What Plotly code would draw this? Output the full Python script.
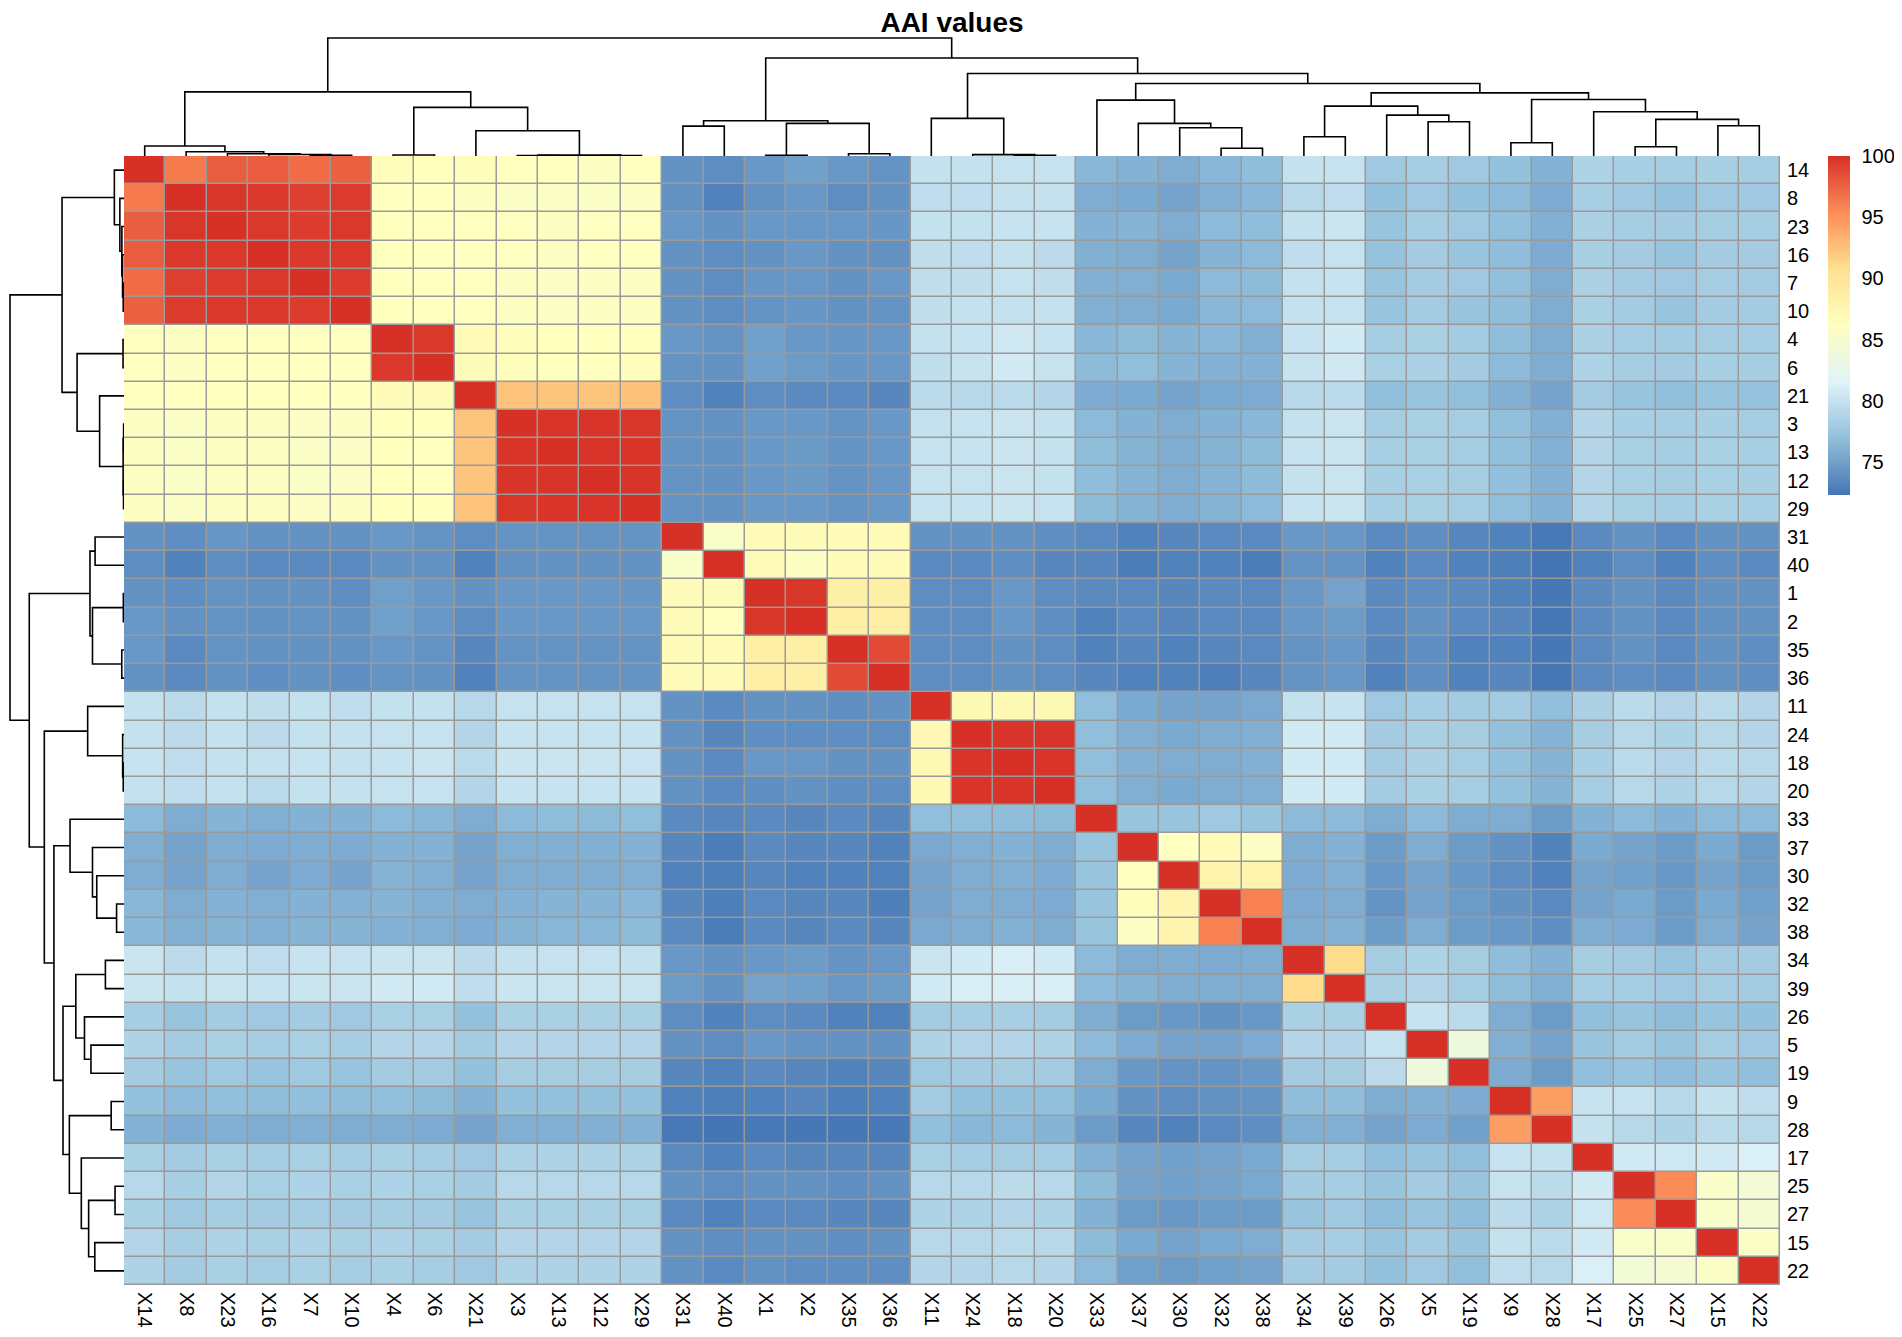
import plotly.graph_objects as go

title = "AAI values"

# genome order after clustering (rows); the columns carry an "X" prefix
genomes = ["14", "8", "23", "16", "7", "10", "4", "6", "21", "3", "13", "12", "29",
           "31", "40", "1", "2", "35", "36", "11", "24", "18", "20",
           "33", "37", "30", "32", "38", "34", "39", "26", "5", "19",
           "9", "28", "17", "25", "27", "15", "22"]
col_labels = ["X" + g for g in genomes]

# hierarchical clustering merges: a str is a leaf, an int is an earlier merge
merge_left = ["7", "16", "23", "8", "14", "4", "3", "12", 6, "21", 5, 4,
              "31", "1", "35", 13, 12, "18", "24", "11",
              "32", "30", "37", "33", "34", "5", "26", 24,
              "9", "25", "15", 29, "17", 28, 27, 23, 19, 16, 11]
merge_right = ["10", 0, 1, 2, 3, "6", "13", "29", 7, 8, 9, 10,
               "40", "2", "36", 14, 15, "20", 17, 18,
               "38", 20, 21, 22, "39", "19", 25, 26,
               "28", "27", "22", 30, 31, 32, 33, 34, 35, 36, 37]
merge_height = [0.8, 1.5, 2.2, 4.3, 10.0, 1.0, 0.4, 0.5, 0.9, 25.3, 48.7, 64.3,
                30.0, 0.7, 2.3, 32.7, 35.3, 0.8, 1.4, 37.7,
                7.7, 28.3, 32.7, 56.0, 19.3, 34.3, 41.0, 50.0,
                13.3, 9.3, 30.3, 36.7, 44.3, 56.7, 63.3, 72.7, 82.7, 98.3, 118.3]

# AAI (%) matrix, rows and columns in the order of `genomes`
aai = [
    [100, 96.3, 97.7, 97.8, 97.0, 97.6, 86.4, 86.2, 86.4, 86.1, 86.0, 85.9, 86.0, 74.1, 73.8, 74.5, 75.0, 74.5, 74.2, 79.9, 79.9, 80.0, 80.0, 76.4, 76.1, 75.8, 76.4, 76.8, 79.9, 80.0, 77.8, 78.2, 77.8, 77.1, 76.1, 78.6, 78.3, 78.2, 78.3, 78.2],
    [96.3, 100, 99.7, 99.6, 99.2, 99.4, 86.1, 86.0, 85.9, 85.6, 85.5, 85.6, 85.7, 74.1, 73.1, 74.1, 74.5, 73.8, 74.1, 79.6, 79.6, 79.9, 79.9, 75.8, 75.6, 75.2, 76.0, 76.4, 79.1, 79.6, 77.1, 77.8, 77.1, 76.6, 75.7, 78.3, 77.8, 77.2, 77.8, 77.8],
    [97.7, 99.7, 100, 99.6, 99.4, 99.6, 86.2, 86.1, 86.1, 86.0, 85.9, 86.0, 86.0, 74.5, 74.1, 74.5, 74.5, 74.5, 74.4, 79.9, 79.9, 80.1, 80.1, 76.1, 76.2, 75.8, 76.6, 76.8, 79.9, 80.3, 77.4, 78.2, 77.8, 77.0, 76.0, 78.5, 78.2, 78.0, 78.2, 78.2],
    [97.8, 99.6, 99.6, 100, 99.6, 99.6, 86.2, 86.1, 86.1, 86.0, 85.9, 86.0, 86.0, 74.1, 73.8, 74.1, 74.5, 74.1, 74.1, 79.7, 79.6, 79.9, 79.4, 76.0, 75.8, 75.2, 76.2, 76.6, 79.6, 80.0, 77.2, 78.0, 77.4, 76.8, 75.7, 78.3, 78.0, 77.4, 78.0, 78.0],
    [97.0, 99.2, 99.4, 99.6, 100, 99.4, 86.2, 86.1, 86.1, 85.9, 85.7, 85.9, 85.9, 74.1, 73.8, 74.4, 74.5, 74.1, 74.5, 79.7, 79.7, 80.0, 79.7, 76.0, 75.9, 75.6, 76.6, 76.7, 79.9, 80.1, 77.4, 78.0, 77.8, 77.0, 75.8, 78.5, 78.0, 77.8, 78.2, 78.0],
    [97.6, 99.4, 99.6, 99.6, 99.4, 100, 86.2, 86.1, 86.0, 85.9, 85.7, 85.9, 85.9, 74.1, 73.8, 74.2, 74.4, 74.1, 74.2, 79.7, 79.9, 79.9, 79.9, 76.0, 75.8, 75.6, 76.4, 76.6, 79.9, 80.0, 77.4, 78.0, 77.4, 76.8, 75.8, 78.4, 78.0, 77.4, 78.0, 78.0],
    [86.0, 85.9, 86.0, 86.1, 86.0, 86.0, 100, 99.6, 86.8, 86.4, 86.2, 86.2, 86.2, 74.5, 74.2, 75.0, 74.5, 74.4, 74.5, 79.9, 80.1, 80.6, 80.0, 76.4, 76.7, 76.2, 76.4, 76.0, 80.1, 80.7, 78.2, 78.4, 78.0, 76.8, 75.8, 78.5, 78.2, 78.0, 78.2, 78.2],
    [86.0, 85.9, 86.1, 86.2, 86.1, 86.1, 99.6, 100, 86.8, 86.4, 86.2, 86.2, 86.4, 74.2, 74.1, 75.0, 74.7, 74.4, 74.5, 79.7, 80.1, 80.7, 80.1, 76.7, 76.9, 76.2, 76.1, 76.1, 80.1, 80.6, 78.4, 78.5, 78.0, 76.6, 75.8, 78.6, 78.2, 78.0, 78.3, 78.2],
    [86.0, 86.0, 86.1, 86.1, 86.1, 86.0, 86.8, 86.8, 100, 92.4, 92.3, 92.3, 92.5, 73.8, 73.1, 73.8, 73.6, 73.6, 73.4, 79.4, 79.1, 79.4, 78.9, 75.7, 75.6, 75.2, 75.6, 75.7, 79.1, 79.4, 77.0, 77.4, 77.0, 76.0, 75.2, 78.0, 77.4, 77.0, 77.4, 77.2],
    [85.8, 85.6, 85.9, 85.9, 85.7, 85.8, 86.2, 86.2, 92.3, 100, 99.8, 99.8, 99.7, 74.2, 74.1, 74.5, 74.5, 74.2, 74.5, 79.9, 80.1, 80.3, 79.9, 76.6, 76.1, 75.8, 76.1, 76.4, 79.9, 80.3, 78.2, 78.4, 78.2, 77.0, 76.0, 78.9, 78.3, 78.2, 78.3, 78.2],
    [85.8, 85.5, 85.8, 85.9, 85.6, 85.7, 86.2, 86.1, 92.3, 99.8, 100, 99.8, 99.8, 74.2, 74.1, 74.5, 74.6, 74.2, 74.5, 80.0, 80.1, 80.3, 79.9, 76.8, 76.2, 75.8, 76.2, 76.7, 80.0, 80.3, 78.3, 78.4, 78.2, 77.0, 76.1, 78.9, 78.4, 78.2, 78.4, 78.3],
    [85.8, 85.5, 85.8, 85.9, 85.6, 85.7, 86.2, 86.1, 92.3, 99.8, 99.8, 100, 99.8, 74.2, 74.1, 74.5, 74.6, 74.2, 74.5, 80.0, 80.0, 80.3, 79.9, 76.8, 76.2, 75.8, 76.2, 76.7, 79.9, 80.3, 78.3, 78.4, 78.2, 77.0, 76.1, 78.9, 78.4, 78.2, 78.4, 78.3],
    [85.8, 85.6, 85.8, 85.9, 85.7, 85.8, 86.2, 86.2, 92.4, 99.7, 99.8, 99.8, 100, 74.2, 74.1, 74.5, 74.5, 74.2, 74.5, 80.0, 80.1, 80.3, 80.0, 76.7, 76.2, 75.8, 76.2, 76.6, 80.0, 80.3, 78.3, 78.4, 78.2, 76.9, 76.1, 78.9, 78.4, 78.2, 78.4, 78.3],
    [74.1, 73.9, 74.4, 74.1, 74.1, 74.1, 74.5, 74.2, 73.8, 74.2, 74.2, 74.2, 74.2, 100, 85.3, 86.7, 86.8, 86.7, 86.7, 74.1, 74.1, 74.1, 73.9, 73.6, 73.1, 73.4, 73.6, 73.6, 74.5, 74.5, 73.6, 73.9, 73.4, 73.1, 72.5, 73.6, 74.1, 73.6, 74.1, 74.1],
    [73.8, 73.1, 73.9, 73.6, 73.6, 73.6, 74.1, 74.1, 73.1, 74.1, 74.1, 74.1, 74.1, 85.3, 100, 86.7, 85.8, 86.8, 86.8, 73.6, 73.6, 73.9, 73.4, 73.4, 72.8, 73.1, 73.1, 72.8, 74.2, 74.2, 73.1, 73.6, 73.1, 72.9, 72.3, 73.1, 73.8, 73.1, 73.9, 73.6],
    [74.1, 73.9, 74.2, 74.1, 74.1, 73.9, 74.9, 74.5, 74.1, 74.5, 74.5, 74.5, 74.4, 86.8, 86.7, 100, 99.7, 88.6, 88.6, 73.8, 73.8, 74.5, 73.8, 73.6, 73.6, 73.4, 73.6, 73.6, 74.5, 75.2, 73.6, 73.9, 73.6, 73.1, 72.4, 73.6, 74.1, 73.6, 74.1, 74.1],
    [74.5, 74.1, 74.2, 74.1, 74.2, 74.1, 75.0, 74.5, 73.8, 74.5, 74.5, 74.5, 74.5, 86.8, 86.0, 99.7, 100, 88.6, 88.6, 73.9, 73.8, 74.5, 73.8, 73.1, 73.6, 73.4, 73.6, 73.6, 74.5, 74.7, 73.6, 74.1, 73.6, 73.4, 72.4, 73.6, 74.1, 73.6, 74.1, 74.1],
    [74.5, 73.6, 74.2, 74.1, 74.1, 74.1, 74.5, 74.2, 73.4, 74.2, 74.2, 74.2, 74.2, 86.7, 86.8, 88.6, 88.6, 100, 98.7, 73.8, 73.8, 74.1, 73.8, 73.1, 73.4, 73.1, 73.4, 73.6, 74.2, 74.5, 73.4, 73.9, 73.1, 73.1, 72.4, 73.6, 74.1, 73.6, 74.1, 73.9],
    [74.1, 73.6, 74.1, 73.9, 74.1, 73.9, 74.2, 74.1, 73.1, 74.2, 74.2, 74.2, 74.2, 86.7, 86.8, 88.6, 88.6, 98.7, 100, 73.8, 73.8, 74.1, 73.8, 73.4, 73.1, 73.1, 72.9, 73.4, 74.2, 74.5, 73.1, 73.9, 73.1, 73.4, 72.4, 73.6, 73.9, 73.6, 74.1, 73.9],
    [79.9, 79.4, 79.9, 79.7, 79.9, 79.6, 79.9, 79.9, 79.1, 80.0, 80.0, 80.0, 80.0, 74.1, 73.6, 74.1, 74.1, 73.9, 74.1, 100, 87.0, 87.0, 87.0, 76.9, 75.6, 75.2, 75.2, 75.5, 79.9, 80.1, 77.8, 78.2, 78.0, 78.0, 77.0, 78.5, 79.4, 78.9, 79.4, 78.9],
    [79.9, 79.4, 79.9, 79.4, 79.9, 79.9, 80.0, 80.0, 78.9, 80.1, 80.1, 80.1, 80.1, 74.1, 73.4, 73.9, 73.9, 73.9, 73.8, 87.0, 100, 99.8, 99.8, 76.9, 75.9, 75.6, 75.8, 75.9, 80.7, 80.7, 78.0, 78.4, 78.2, 77.1, 76.2, 78.2, 79.1, 78.6, 79.1, 78.9],
    [80.1, 79.6, 79.9, 79.9, 80.1, 79.9, 80.1, 80.3, 79.4, 80.3, 80.3, 80.3, 80.2, 74.1, 73.6, 74.5, 74.5, 74.1, 74.1, 87.0, 99.8, 100, 99.8, 76.9, 76.0, 75.8, 75.8, 76.0, 80.7, 80.7, 78.0, 78.5, 78.2, 77.1, 76.2, 78.3, 79.4, 78.9, 79.4, 79.1],
    [79.9, 79.6, 79.9, 79.4, 79.9, 79.9, 80.0, 80.0, 78.9, 80.1, 80.1, 80.1, 80.1, 74.1, 73.6, 73.9, 74.1, 73.9, 73.9, 87.0, 99.8, 99.8, 100, 76.9, 75.9, 75.6, 75.8, 75.9, 80.7, 80.7, 78.0, 78.4, 78.2, 77.1, 76.2, 78.2, 79.1, 78.6, 79.1, 78.9],
    [76.6, 75.8, 76.2, 75.9, 76.1, 76.1, 76.6, 76.4, 75.8, 76.6, 76.8, 76.7, 76.9, 73.6, 73.4, 73.6, 73.4, 73.6, 73.4, 76.9, 76.9, 76.8, 76.7, 100, 77.4, 77.4, 77.8, 77.4, 76.6, 76.6, 75.8, 76.6, 75.8, 75.8, 74.7, 76.1, 76.6, 76.1, 76.6, 76.6],
    [75.9, 75.2, 75.8, 75.7, 75.8, 75.7, 76.1, 76.1, 75.2, 75.9, 76.0, 76.0, 76.1, 73.4, 72.8, 73.6, 73.4, 73.4, 73.1, 75.5, 75.9, 76.1, 75.8, 77.4, 100, 86.1, 86.8, 85.7, 75.8, 76.1, 74.7, 75.8, 74.7, 74.1, 73.1, 75.6, 75.2, 74.7, 75.6, 74.7],
    [75.8, 75.2, 75.8, 75.2, 75.7, 75.2, 76.2, 76.0, 75.2, 75.8, 75.8, 75.8, 75.9, 73.1, 72.9, 73.4, 73.1, 73.1, 73.1, 75.2, 75.8, 75.9, 75.7, 77.4, 86.1, 100, 87.8, 87.8, 75.7, 75.9, 74.5, 75.2, 74.5, 73.8, 73.1, 75.2, 75.0, 74.5, 75.2, 74.7],
    [76.4, 75.8, 76.1, 75.9, 76.1, 76.1, 76.2, 76.0, 75.8, 76.1, 76.2, 76.2, 76.4, 73.4, 72.9, 73.6, 73.4, 73.4, 72.9, 75.2, 75.8, 75.8, 75.7, 77.4, 86.4, 87.8, 100, 96.0, 75.7, 75.8, 74.2, 75.2, 74.7, 74.1, 73.6, 75.2, 75.6, 74.7, 75.6, 75.0],
    [76.4, 75.9, 76.2, 76.0, 76.2, 76.2, 76.1, 75.9, 75.7, 76.2, 76.4, 76.4, 76.7, 73.6, 72.8, 73.6, 73.4, 73.6, 73.4, 75.5, 75.8, 76.1, 75.8, 77.4, 85.7, 87.8, 96.0, 100, 75.8, 76.1, 74.7, 75.8, 74.7, 74.5, 73.9, 75.8, 75.7, 74.7, 75.8, 75.2],
    [80.3, 79.4, 79.9, 79.6, 80.1, 80.1, 80.3, 80.3, 79.4, 79.9, 80.0, 80.0, 79.9, 74.5, 74.1, 74.5, 74.7, 74.2, 74.5, 80.3, 80.7, 81.1, 80.7, 76.6, 75.8, 75.8, 75.7, 75.8, 100, 91.0, 78.2, 78.6, 78.2, 76.8, 76.1, 78.2, 78.0, 77.4, 78.0, 78.0],
    [80.3, 79.9, 80.3, 80.1, 80.3, 80.3, 80.7, 80.7, 79.6, 80.3, 80.3, 80.3, 80.3, 74.7, 74.1, 75.2, 75.0, 74.5, 74.7, 80.7, 81.1, 81.1, 81.1, 76.6, 76.2, 75.8, 75.8, 75.8, 91.0, 100, 78.5, 78.9, 78.2, 76.8, 76.0, 78.2, 78.2, 77.8, 78.2, 78.0],
    [78.2, 77.4, 78.0, 77.8, 78.0, 77.8, 78.4, 78.4, 77.1, 78.4, 78.4, 78.4, 78.4, 73.8, 73.1, 73.8, 73.6, 73.1, 73.1, 78.0, 78.2, 78.3, 78.0, 75.8, 74.7, 74.5, 74.1, 74.5, 78.4, 78.4, 100, 80.1, 79.4, 75.8, 74.7, 77.0, 77.4, 76.8, 77.4, 77.1],
    [78.6, 78.0, 78.4, 78.2, 78.4, 78.2, 78.9, 78.9, 78.0, 78.9, 78.9, 78.9, 78.9, 74.1, 73.8, 74.5, 74.2, 74.1, 74.1, 78.6, 78.9, 78.9, 78.6, 76.6, 75.7, 75.2, 75.2, 75.7, 78.9, 78.9, 80.1, 100, 83.7, 75.9, 75.2, 77.4, 78.0, 77.4, 78.2, 77.8],
    [78.0, 77.4, 77.8, 77.4, 77.8, 77.4, 78.0, 78.0, 77.1, 78.2, 78.2, 78.2, 78.2, 73.4, 73.1, 73.6, 73.4, 73.1, 73.4, 77.8, 78.0, 78.2, 78.0, 75.8, 74.5, 74.2, 74.2, 74.5, 78.0, 78.2, 79.4, 83.7, 100, 75.7, 74.7, 77.0, 77.4, 76.8, 77.4, 77.0],
    [77.1, 76.6, 77.0, 76.8, 77.0, 76.8, 76.9, 76.7, 76.1, 77.1, 77.1, 77.1, 77.1, 73.1, 72.9, 73.1, 73.4, 72.9, 73.1, 78.0, 77.1, 77.1, 77.0, 75.6, 74.1, 73.8, 74.1, 74.2, 76.8, 76.8, 75.8, 76.0, 75.7, 100, 94.5, 80.1, 80.1, 79.1, 79.9, 79.6],
    [76.1, 75.7, 76.0, 75.8, 75.9, 75.8, 75.8, 75.7, 75.2, 76.0, 76.0, 76.0, 76.1, 72.5, 72.3, 72.5, 72.4, 72.4, 72.5, 77.0, 76.4, 76.6, 76.2, 74.7, 73.4, 73.1, 73.6, 73.9, 76.0, 76.0, 75.2, 75.7, 75.0, 94.5, 100, 79.9, 79.1, 78.6, 79.4, 79.1],
    [78.4, 78.0, 78.4, 78.2, 78.4, 78.2, 78.4, 78.2, 77.8, 78.6, 78.6, 78.6, 78.6, 73.6, 73.1, 73.6, 73.4, 73.4, 73.4, 78.4, 78.2, 78.2, 78.2, 76.1, 75.2, 75.0, 75.2, 75.6, 78.2, 78.2, 77.0, 77.4, 77.0, 80.1, 79.9, 100, 80.7, 80.5, 80.7, 81.2],
    [79.1, 78.3, 78.9, 78.4, 78.6, 78.4, 78.6, 78.4, 78.0, 79.1, 79.1, 79.1, 79.1, 74.1, 73.8, 74.1, 74.1, 73.9, 74.1, 79.1, 79.1, 79.4, 79.1, 76.7, 75.2, 75.0, 75.2, 75.6, 78.0, 78.2, 77.4, 78.0, 77.4, 80.1, 79.4, 80.7, 100, 95.5, 85.3, 84.3],
    [78.4, 77.8, 78.2, 78.0, 78.2, 78.0, 78.2, 78.0, 77.4, 78.4, 78.4, 78.4, 78.4, 73.6, 73.1, 73.6, 73.6, 73.4, 73.4, 78.6, 78.6, 78.9, 78.6, 76.1, 74.7, 74.5, 74.7, 74.7, 77.4, 77.8, 76.8, 77.4, 76.8, 79.4, 78.6, 80.5, 95.5, 100, 85.3, 84.5],
    [78.9, 78.2, 78.6, 78.4, 78.6, 78.4, 78.6, 78.4, 78.0, 78.9, 78.9, 78.9, 78.9, 74.1, 73.9, 74.1, 74.1, 73.9, 74.1, 79.1, 79.1, 79.4, 79.1, 76.7, 75.6, 75.2, 75.6, 75.8, 78.0, 78.2, 77.4, 78.0, 77.4, 79.9, 79.4, 80.7, 85.3, 85.3, 100, 85.6],
    [78.6, 78.0, 78.4, 78.2, 78.4, 78.2, 78.4, 78.2, 77.8, 78.6, 78.6, 78.6, 78.6, 74.1, 73.6, 74.1, 73.9, 73.9, 73.9, 78.9, 78.9, 79.1, 78.9, 76.6, 75.0, 74.7, 75.0, 75.2, 78.0, 78.0, 77.1, 77.8, 77.0, 79.6, 79.1, 81.2, 84.3, 84.5, 85.6, 100],
]

# pheatmap default palette: rev(brewer.pal(7, "RdYlBu"))
palette = ["#4575B4", "#91BFDB", "#E0F3F8", "#FFFFBF", "#FEE090", "#FC8D59", "#D73027"]
bar_ticks = [75, 80, 85, 90, 95, 100]

FONT = "Liberation Sans, Arial, sans-serif"

# the page body keeps its default 8px margin, so the figure starts at (8, 8)
OFF = 8
W, H = 1893, 1325

# pixel frame (page coordinates) of the heatmap and the dendrogram strips
hm_left, hm_right, hm_top, hm_bottom = 124 - OFF, 1780 - OFF, 156 - OFF, 1285 - OFF
top_px, left_px = 118, hm_left - 2
bar_left, bar_px_per_unit = 1828 - OFF, 12.24
title_baseline = 24


def dendro_segments(leaves, lefts, rights, heights):
  pos = {name: i for i, name in enumerate(leaves)}
  node_pos, node_h = [], []
  xs, hs = [], []
  for a, b, h in zip(lefts, rights, heights):
    pa, ha = (pos[a], 0) if isinstance(a, str) else (node_pos[a], node_h[a])
    pb, hb = (pos[b], 0) if isinstance(b, str) else (node_pos[b], node_h[b])
    xs += [pa, pa, pb, pb, None]
    hs += [ha, h, h, hb, None]
    node_pos.append((pa + pb) / 2)
    node_h.append(h)
  return xs, hs


n = len(genomes)
zmin = min(min(r) for r in aai)
zmax = max(max(r) for r in aai)
colorscale = [[i / (len(palette) - 1), c] for i, c in enumerate(palette)]

seg_pos, seg_h = dendro_segments(genomes, merge_left, merge_right, merge_height)
root_h = max(merge_height)
top_strip = hm_top - 6
left_strip = hm_left

fig = go.Figure()

fig.add_trace(go.Heatmap(
  z=aai, x=list(range(n)), y=list(range(n)),
  colorscale=colorscale, zmin=zmin, zmax=zmax,
  xgap=1.5, ygap=1.5, hoverinfo="skip",
  colorbar=dict(
    x=bar_left / W, xanchor="left", y=1 - hm_top / H, yanchor="top",
    thickness=22, thicknessmode="pixels",
    len=(zmax - zmin) * bar_px_per_unit, lenmode="pixels",
    xpad=0, ypad=0, outlinewidth=0,
    tickvals=bar_ticks, ticks="outside", ticklen=8, tickcolor="rgba(0,0,0,0)",
    tickfont=dict(family=FONT, size=20, color="black"),
  ),
))

# column dendrogram (top)
fig.add_trace(go.Scatter(
  x=seg_pos, y=seg_h, mode="lines", xaxis="x2", yaxis="y2",
  line=dict(color="black", width=1.6), hoverinfo="skip", showlegend=False,
))
# row dendrogram (left)
fig.add_trace(go.Scatter(
  x=seg_h, y=seg_pos, mode="lines", xaxis="x3", yaxis="y3",
  line=dict(color="black", width=1.6), hoverinfo="skip", showlegend=False,
))

x_dom = [hm_left / W, hm_right / W]
y_dom = [1 - hm_bottom / H, 1 - hm_top / H]

fig.update_layout(
  width=W, height=H,
  margin=dict(l=0, r=0, t=0, b=0),
  paper_bgcolor="white", plot_bgcolor="white",
  font=dict(family=FONT, color="black"),
  title=dict(text="<b>" + title + "</b>", x=(hm_left + hm_right) / 2 / W, xanchor="center",
             y=1 - title_baseline / H, yanchor="bottom",
             font=dict(family=FONT, size=28, color="black")),
  xaxis=dict(domain=x_dom, range=[-0.5, n - 0.5], tickvals=list(range(n)), ticktext=col_labels,
             tickangle=90, ticks="", showgrid=False, zeroline=False, showline=False,
             ticklabelstandoff=6, tickfont=dict(size=20)),
  yaxis=dict(domain=y_dom, range=[n - 0.5, -0.5], tickvals=list(range(n)), ticktext=genomes,
             side="right", ticks="", showgrid=False, zeroline=False, showline=False,
             ticklabelstandoff=6, tickfont=dict(size=20)),
  xaxis2=dict(domain=x_dom, range=[-0.5, n - 0.5], visible=False, anchor="y2"),
  yaxis2=dict(domain=[1 - hm_top / H, 1 - (hm_top - top_strip) / H],
              range=[0, top_strip * root_h / top_px], visible=False, anchor="x2"),
  xaxis3=dict(domain=[0, hm_left / W],
              range=[left_strip * root_h / left_px, 0], visible=False, anchor="y3"),
  yaxis3=dict(domain=y_dom, range=[n - 0.5, -0.5], visible=False, anchor="x3"),
  shapes=[dict(type="rect", xref="x", yref="y", x0=-0.5, x1=n - 0.5, y0=-0.5, y1=n - 0.5,
               fillcolor="#9A9A9A", line=dict(width=0), layer="below")],
)

fig.write_html("out.html")
